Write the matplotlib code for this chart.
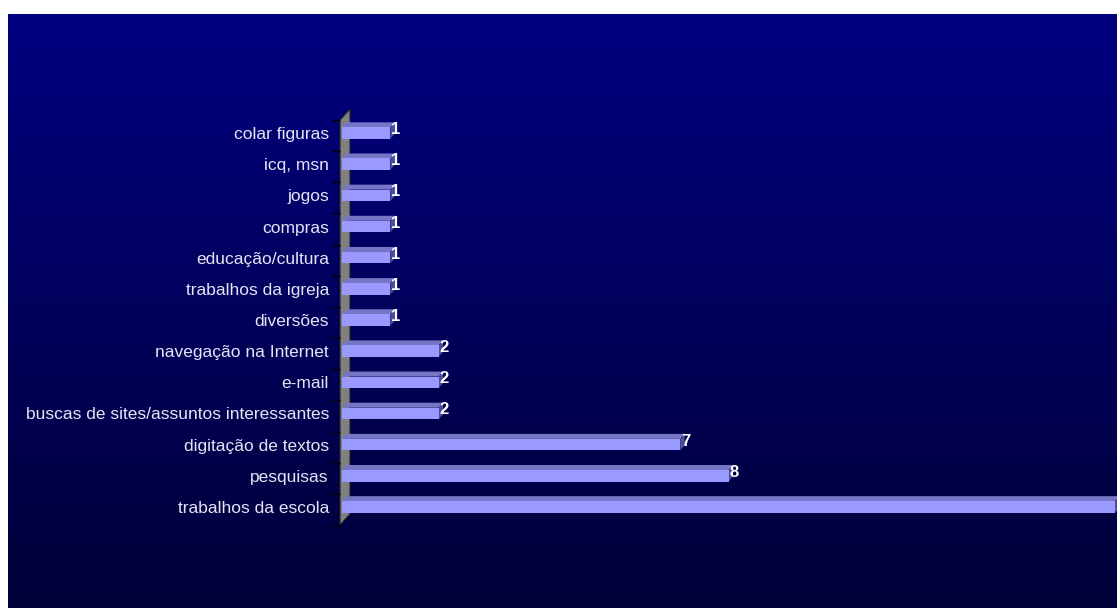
import numpy as np
import matplotlib.pyplot as plt
from matplotlib.patches import Polygon
from matplotlib.transforms import IdentityTransform

plt.rcParams['font.family'] = ['Liberation Sans', 'DejaVu Sans']

# categorias de baixo para cima
categorias = [
    "trabalhos da escola",
    "pesquisas",
    "digitação de textos",
    "buscas de sites/assuntos interessantes",
    "e-mail",
    "navegação na Internet",
    "diversões",
    "trabalhos da igreja",
    "educação/cultura",
    "compras",
    "jogos",
    "icq, msn",
    "colar figuras",
]
valores = [16, 8, 7, 2, 2, 2, 1, 1, 1, 1, 1, 1, 1]

W, H = 1117, 608
fig = plt.figure(figsize=(W / 100, H / 100), dpi=100, facecolor="white")

# fundo em degradê azul
bg = fig.add_axes([8 / W, 0, 1 - 8 / W, (H - 14) / H])
azul = np.linspace(128, 56, 256) / 255.0
grad = np.zeros((256, 1, 3))
grad[:, 0, 2] = azul
bg.imshow(grad, aspect="auto", extent=(0, 1, 0, 1))
bg.set_axis_off()

# eixo principal (plano frontal)
x0, x1 = 340, 1115
y_top, y_bot = 120, 525
ax = fig.add_axes([x0 / W, (H - y_bot) / H, (x1 - x0) / W, (y_bot - y_top) / H])
ax.patch.set_alpha(0)
escala = (x1 - 342) / 16.0
ax.set_xlim(-2 / escala, 16)
ax.set_ylim(-0.5, len(categorias) - 0.5)
for s in ax.spines.values():
    s.set_visible(False)
ax.set_xticks([])

pos = np.arange(len(categorias))
centro = pos + 0.08
ax.set_yticks(centro)
ax.set_yticklabels(categorias, fontsize=12.5, color="#e4e4f4")
ax.tick_params(axis="y", which="major", length=0, pad=8)
ax.set_yticks(np.arange(len(categorias) + 1) - 0.5, minor=True)
ax.tick_params(axis="y", which="minor", length=5.5, width=1, color="black", direction="out")

fig.canvas.draw()


def poligono(pts, cor, z, borda="none"):
    p = Polygon(pts, closed=True, facecolor=cor, edgecolor=borda, lw=0.8,
                transform=IdentityTransform(), zorder=z, clip_on=False)
    ax.add_patch(p)


# parede lateral cinza
px = lambda x, y: (x, H - y)
poligono([px(340, 525), px(340, 120), px(350, 109), px(350, 514)], "#808080", 1, "#222222")

# barras 3D
alt = 0.37
dx, dy = 4.5, 5
ax.barh(centro, valores, height=alt, left=0, color="#9999ff", edgecolor="none", zorder=3)
for c, v in zip(centro, valores):
    xa, ya = ax.transData.transform((0, c + alt / 2))
    xb, yb = ax.transData.transform((v, c + alt / 2))
    xc, yc = ax.transData.transform((v, c - alt / 2))
    poligono([(xa, ya), (xb, yb), (xb + dx, yb + dy), (xa + dx, ya + dy)], "#7676c6", 2)
    poligono([(xb, yb), (xb + dx, yb + dy), (xc + dx, yc + dy), (xc, yc)], "#4c4c99", 2)
    ax.annotate(str(v), (v, c), xytext=(0.5, 2.5), textcoords="offset points",
                ha="left", va="center", fontsize=12, fontweight="bold",
                color="white", zorder=5, annotation_clip=False)

fig.savefig("out.png", dpi=100, facecolor="white")
